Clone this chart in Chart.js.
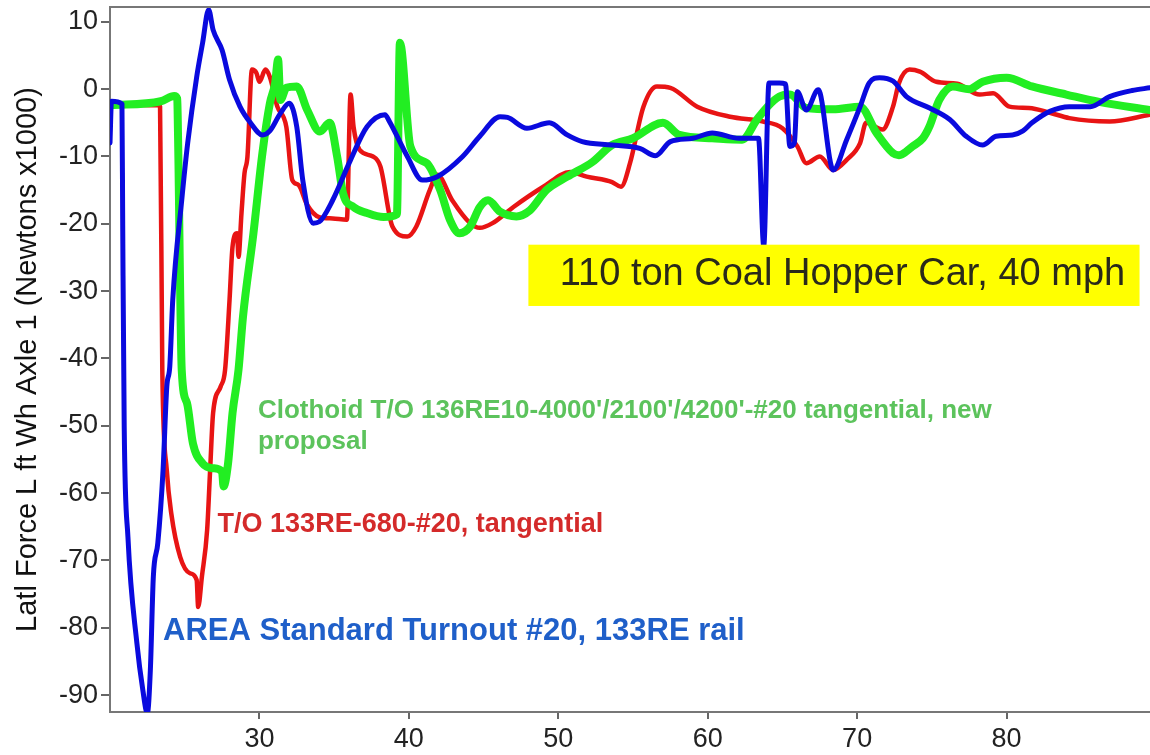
<!DOCTYPE html>
<html lang="en">
<head>
  <meta charset="UTF-8">
  <title>Lateral Force - Coal Hopper Car</title>
  <script src="https://cdn.jsdelivr.net/npm/chart.js"></script>
  <style>
    html, body { margin: 0; padding: 0; background: #fff; }
    #chart { display: block; }
  </style>
</head>
<body>
  <canvas id="chart" width="1150" height="755"></canvas>

  <script>
    // distance along track (x) and lateral force (y, kN) for each turnout
    const areaX = [20.0, 20.1, 20.8, 20.85, 20.95, 21.2, 21.8, 22.2, 22.5, 22.7, 22.9, 23.2, 23.55, 23.8,
      24.0, 24.2, 24.8, 25.2, 25.8, 26.2, 26.6, 26.9, 27.5, 28.0, 28.7, 29.4, 30.2, 30.7, 31.4, 32.0,
      32.5, 32.9, 33.6, 34.0, 34.9, 36.1, 37.2, 38.4, 38.7, 39.9, 40.9, 41.9, 43.6, 44.75, 46.1,
      46.6, 47.9, 49.4, 50.6, 51.6, 53.6, 55.45, 56.5, 57.5, 59.0, 60.3, 62.1, 63.4, 63.75, 64.1, 64.8,
      65.2, 65.5, 65.8, 66.0, 66.6, 67.4, 68.4, 69.3, 70.2, 70.8, 71.5, 72.4, 73.3, 74.85, 76.2, 77.3,
      78.4, 79.3, 80.4, 81.1, 81.7, 82.9, 84.2, 85.6, 86.9, 88.4, 89.6];
    const areaY = [-8.0, -1.8, -2.2, -20, -50, -66.5, -82.3, -89.3, -92.7, -86.3, -72.4, -67.4, -56.6, -44.2,
      -41.2, -31.3, -16.5, -8.0, 1.8, 6.9, 11.8, 8.8, 5.8, 1.4, -2.6, -5.0, -6.8, -6.2, -3.6, -2.1,
      -5.6, -13.5, -19.9, -19.7, -16.5, -10.5, -5.6, -3.8, -4.8, -10.0, -13.5, -13.0, -10.0, -7.0, -4.1,
      -4.2, -5.8, -5.0, -6.8, -7.8, -8.3, -8.8, -9.9, -7.8, -7.3, -6.5, -7.3, -7.3, -23.3, 0.9, 0.9,
      0.8, -8.5, -8.0, -0.4, -3.1, -0.1, -12.0, -7.5, -2.6, 0.9, 1.7, 1.2, -1.1, -2.8, -4.5, -7.0,
      -8.3, -7.0, -6.8, -6.2, -5.0, -3.3, -2.6, -2.6, -1.1, -0.2, 0.2];

    const tangX = [20.0, 23.3, 23.35, 23.5, 23.8, 24.1, 24.7, 25.35, 25.8, 25.9, 26.15, 26.5, 26.7, 26.9,
      27.4, 27.7, 28.0, 28.2, 28.5, 28.6, 28.8, 29.0, 29.2, 29.5, 29.8, 30.0, 30.4, 30.7, 31.2, 31.8,
      32.2, 32.6, 33.2, 34.0, 34.9, 35.85, 36.1, 36.3, 36.7, 37.6, 38.1, 38.9, 39.9, 40.5, 41.4, 41.9,
      42.9, 44.1, 44.75, 45.6, 47.0, 49.0, 50.8, 51.9, 53.6, 54.2, 54.8, 55.7, 56.6, 57.5, 59.3, 61.5,
      63.7, 65.0, 66.0, 66.6, 67.5, 68.4, 69.3, 70.2, 70.6, 71.7, 72.4, 72.8, 73.5, 74.2, 75.3, 76.7,
      78.2, 79.1, 80.2, 81.5, 82.9, 84.2, 86.9, 89.6];
    const tangY = [-2.2, -2.4, -2.6, -41.7, -56.6, -63.0, -69.5, -71.9, -72.9, -76.9, -72.4, -65.5, -56.6, -48.1,
      -44.2, -41.7, -31.3, -23.4, -21.4, -24.9, -18.4, -12.5, -10.0, 2.9, 2.4, 1.1, 2.9, 1.8, -2.6, -5.6,
      -13.5, -14.2, -17.2, -19.0, -19.2, -19.4, -0.8, -5.6, -9.0, -10.0, -11.5, -20.4, -21.9, -20.4, -15.0, -12.7,
      -16.5, -19.9, -20.6, -19.9, -17.5, -14.5, -12.3, -13.0, -13.8, -14.5, -11.0, -2.6, 0.4, 0.2, -2.6, -4.1,
      -4.8, -5.8, -8.5, -11.0, -10.0, -12.0, -10.5, -8.0, -5.0, -6.0, -2.6, 0.9, 2.9, 2.6, 1.1, 0.8,
      -0.8, -0.6, -2.6, -2.8, -3.5, -4.3, -4.8, -3.8];

    const clothX = [20.0, 23.4, 24.3, 24.5, 24.55, 24.8, 25.15, 25.55, 26.2, 26.9, 27.5, 27.6, 27.9, 28.2,
      28.6, 28.9, 29.6, 30.2, 30.7, 31.05, 31.25, 31.4, 31.8, 32.5, 33.2, 34.05, 34.7, 35.2, 35.6, 36.3,
      37.2, 38.3, 39.2, 39.4, 40.1, 41.2, 42.1, 42.75, 43.4, 44.1, 44.75, 45.3, 46.1, 47.2, 48.1, 49.2,
      50.6, 52.3, 53.6, 55.0, 57.0, 58.1, 60.3, 62.3, 63.3, 64.0, 64.8, 65.5, 66.6, 68.4, 70.2, 71.3,
      72.4, 72.8, 73.7, 74.4, 74.85, 75.5, 76.4, 77.5, 78.4, 80.0, 81.7, 84.0, 86.2, 89.6];
    const clothY = [-2.4, -1.8, -1.0, -1.4, -6.5, -41.7, -46.6, -52.6, -55.6, -56.3, -56.8, -59.0, -55.6, -48.1,
      -41.7, -33.8, -21.4, -9.5, -2.1, 0.9, 4.4, -1.6, 0.2, 0.4, -3.1, -6.3, -5.0, -10.0, -15.5, -17.5,
      -18.4, -19.0, -18.6, 6.9, -8.5, -11.0, -15.0, -19.4, -21.4, -20.4, -17.5, -16.5, -18.2, -18.9, -18.0, -15.0,
      -13.0, -10.8, -8.3, -7.3, -5.0, -6.8, -7.3, -7.5, -4.5, -2.6, -1.1, -0.8, -2.8, -3.0, -2.6, -6.5,
      -9.5, -9.8, -8.5, -7.3, -5.5, -1.6, 0.4, 0.0, 1.1, 1.7, 0.4, -0.8, -1.9, -3.1];

    const xTicks = [30, 40, 50, 60, 70, 80];
    const yTicks = [10, 0, -10, -20, -30, -40, -50, -60, -70, -80, -90];

    const toPoints = (xs, ys) => xs.map((x, i) => ({ x: x, y: ys[i] }));
    const FONT = '"Liberation Sans", Arial, sans-serif';

    // free text labels and the yellow box, placed in data units
    const labelPlugin = {
      id: 'labels',
      afterDatasetsDraw(chart) {
        const { ctx, chartArea, scales: { x, y } } = chart;
        ctx.save();

        // frame line along the top
        ctx.strokeStyle = '#777';
        ctx.lineWidth = 2;
        ctx.beginPath();
        ctx.moveTo(chartArea.left, chartArea.top);
        ctx.lineTo(chartArea.right, chartArea.top);
        ctx.stroke();

        // yellow title box
        const bx0 = x.getPixelForValue(48.0), bx1 = x.getPixelForValue(88.9);
        const by0 = y.getPixelForValue(-23.1), by1 = y.getPixelForValue(-32.2);
        ctx.fillStyle = '#ffff00';
        ctx.fillRect(bx0, by0, bx1 - bx0, by1 - by0);
        ctx.fillStyle = '#2a2a1a';
        ctx.font = '38px ' + FONT;
        ctx.textBaseline = 'middle';
        ctx.fillText('110 ton Coal Hopper Car, 40 mph', x.getPixelForValue(50.1), y.getPixelForValue(-27.6));

        ctx.font = 'bold 26px ' + FONT;
        ctx.fillStyle = '#5cc35c';
        ctx.fillText('Clothoid T/O 136RE10-4000\'/2100\'/4200\'-#20 tangential, new',
          x.getPixelForValue(29.9), y.getPixelForValue(-47.7));
        ctx.fillText('proposal', x.getPixelForValue(29.9), y.getPixelForValue(-52.4));

        ctx.font = 'bold 27px ' + FONT;
        ctx.fillStyle = '#d42a2a';
        ctx.fillText('T/O 133RE-680-#20, tangential', x.getPixelForValue(27.2), y.getPixelForValue(-64.7));

        ctx.font = 'bold 31px ' + FONT;
        ctx.fillStyle = '#1f5fc9';
        ctx.fillText('AREA Standard Turnout #20, 133RE rail', x.getPixelForValue(23.55), y.getPixelForValue(-80.6));

        ctx.restore();
      }
    };

    new Chart(document.getElementById('chart'), {
      type: 'line',
      data: {
        datasets: [
          {
            label: 'AREA Standard Turnout #20, 133RE rail',
            data: toPoints(areaX, areaY),
            borderColor: '#0a0ade',
            borderWidth: 5
          },
          {
            label: 'Clothoid T/O 136RE10-4000\'/2100\'/4200\'-#20 tangential, new proposal',
            data: toPoints(clothX, clothY),
            borderColor: '#22ee22',
            borderWidth: 8
          },
          {
            label: 'T/O 133RE-680-#20, tangential',
            data: toPoints(tangX, tangY),
            borderColor: '#e81414',
            borderWidth: 4.5
          }
        ]
      },
      options: {
        responsive: false,
        animation: false,
        devicePixelRatio: 1,
        layout: { padding: { top: 7, right: 0, left: 0, bottom: 0 } },
        elements: {
          point: { radius: 0 },
          line: { cubicInterpolationMode: 'monotone', borderJoinStyle: 'round', borderCapStyle: 'round' }
        },
        plugins: {
          legend: { display: false },
          tooltip: { enabled: false }
        },
        scales: {
          x: {
            type: 'linear',
            min: 20,
            max: 89.6,
            afterBuildTicks: s => { s.ticks = xTicks.map(v => ({ value: v })); },
            afterFit: s => { s.height = 43; s.paddingLeft = 0; s.paddingRight = 0; },
            ticks: {
              color: '#222',
              font: { size: 27, family: FONT },
              padding: 4,
              maxRotation: 0
            },
            grid: { drawOnChartArea: false, drawTicks: true, tickLength: 7, color: '#666', lineWidth: 2 },
            border: { display: true, color: '#777', width: 2 }
          },
          y: {
            min: -92.5,
            max: 12.2,
            afterBuildTicks: s => { s.ticks = yTicks.map(v => ({ value: v })); },
            afterFit: s => { s.width = 110; s.paddingTop = 0; s.paddingBottom = 0; },
            ticks: {
              color: '#222',
              font: { size: 27, family: FONT },
              padding: 3
            },
            grid: { drawOnChartArea: false, drawTicks: true, tickLength: 9, color: '#666', lineWidth: 2 },
            border: { display: true, color: '#777', width: 2 },
            title: {
              display: true,
              text: 'Latl Force L ft Wh Axle 1 (Newtons x1000)',
              color: '#111',
              font: { size: 29, family: FONT },
              padding: { top: 11, bottom: 0 }
            }
          }
        }
      },
      plugins: [labelPlugin]
    });
  </script>
</body>
</html>
